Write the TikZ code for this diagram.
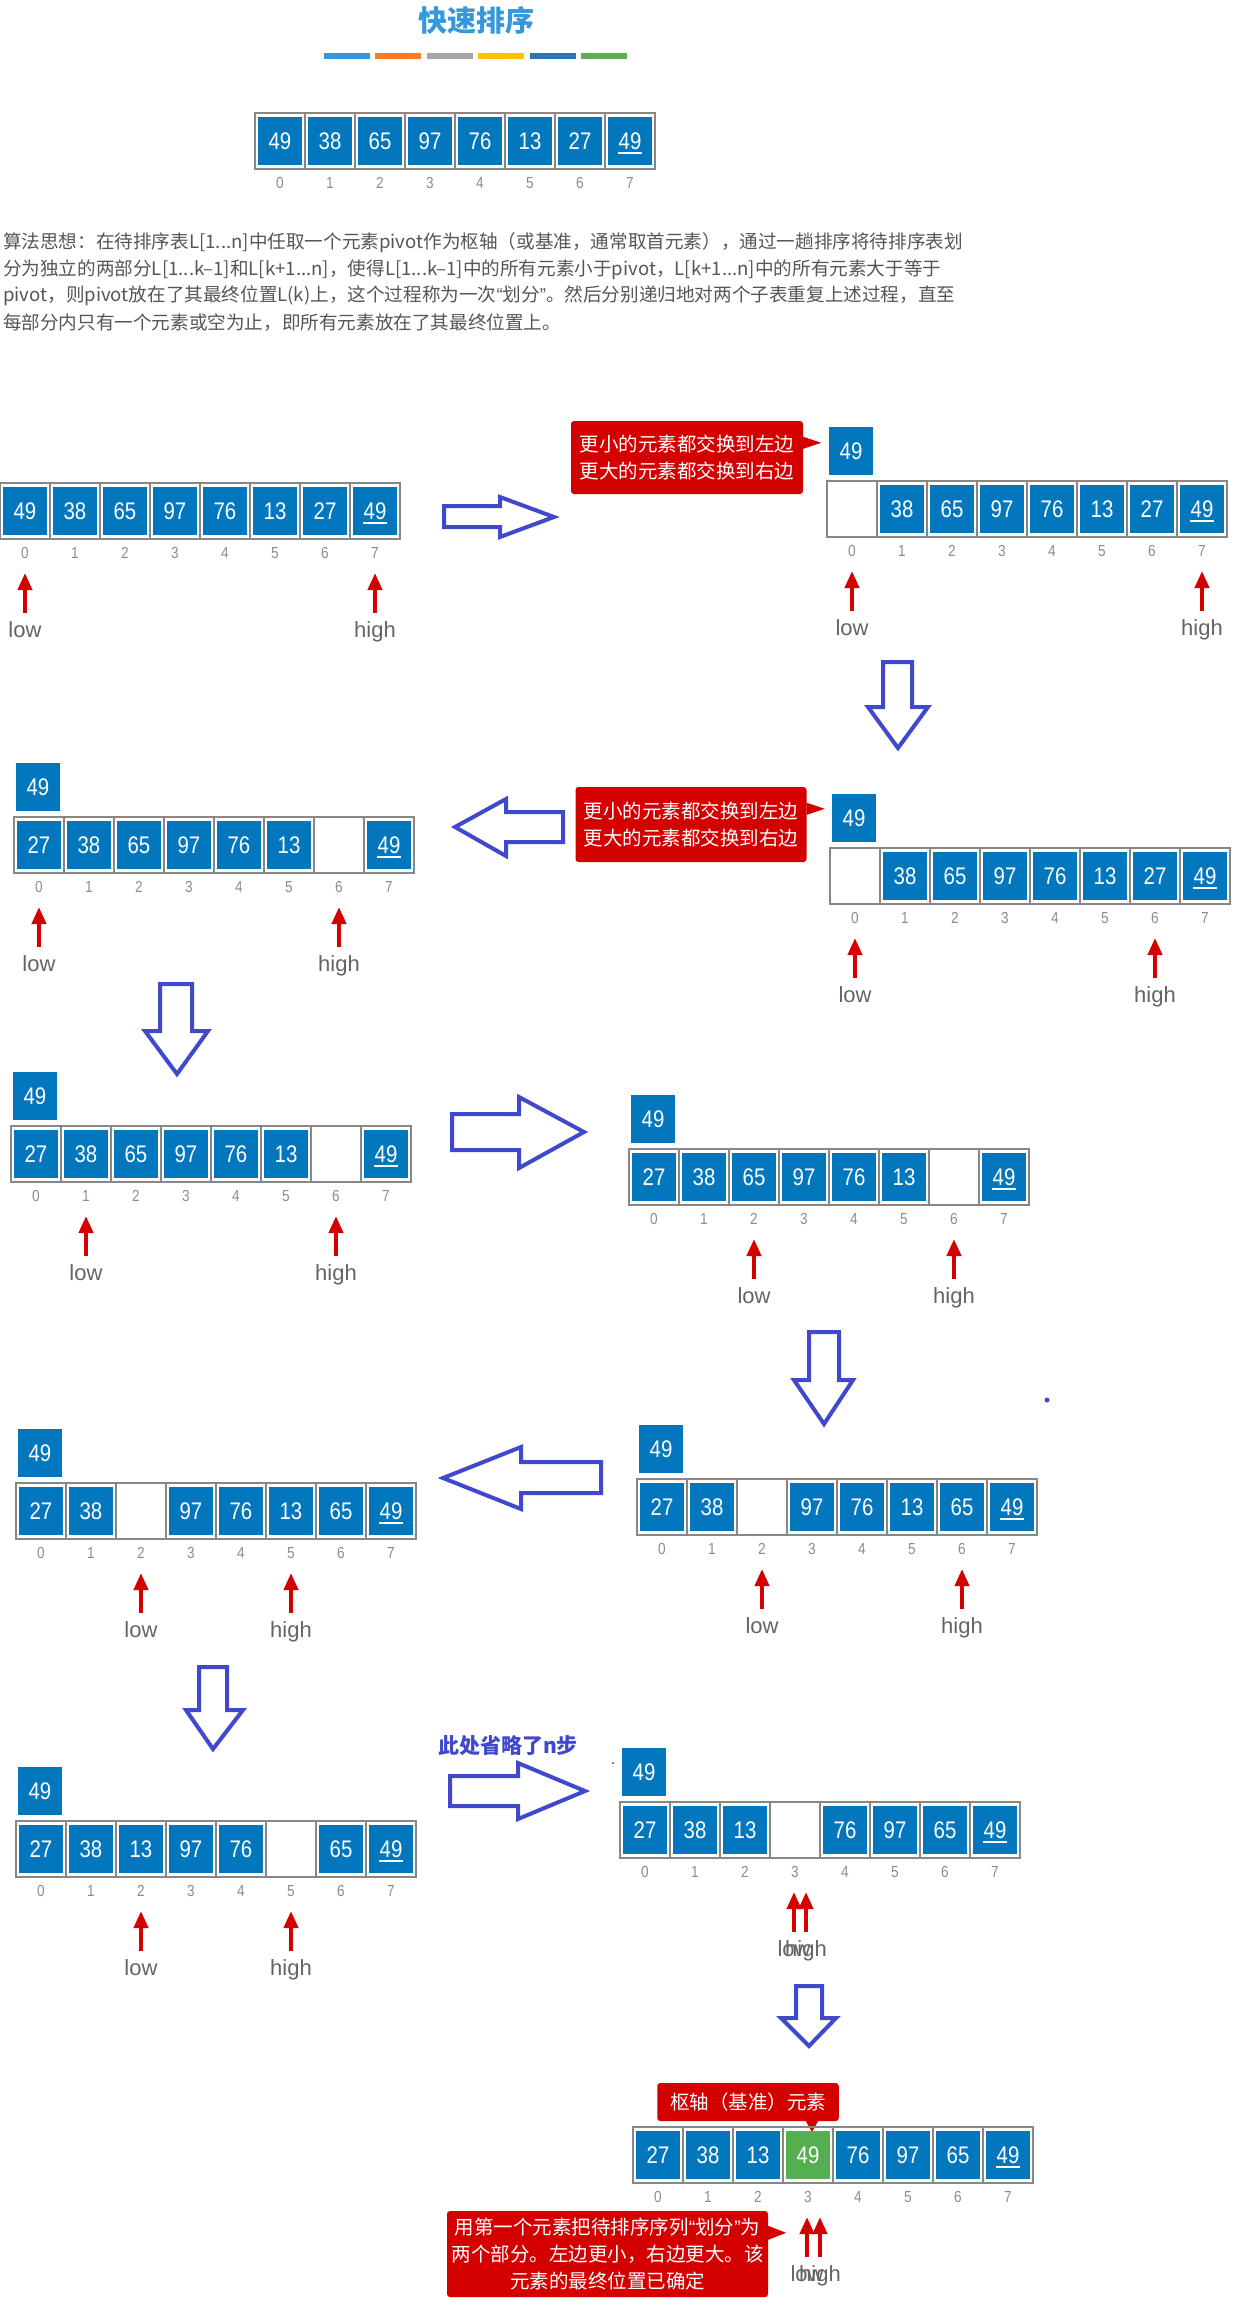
\documentclass[tikz,border=0pt]{standalone}
\usepackage{fontspec}
\setmainfont{Liberation Sans}
\newfontfamily\cjk{Noto Sans CJK SC}
\newfontfamily\narrowf{Liberation Sans}[FakeStretch=0.85]
\usetikzlibrary{arrows.meta}

\definecolor{cellblue}{RGB}{2,119,189}
\definecolor{pivgreen}{RGB}{85,175,80}
\definecolor{hintred}{RGB}{212,0,0}
\definecolor{bigblue}{RGB}{64,72,204}
\definecolor{titleblue}{RGB}{52,152,219}
\definecolor{framegray}{RGB}{135,135,135}
\definecolor{idxgray}{RGB}{140,140,140}
\definecolor{lblgray}{RGB}{100,100,100}
\definecolor{txtgray}{RGB}{85,85,85}
\definecolor{barA}{RGB}{52,152,219}
\definecolor{barB}{RGB}{255,120,35}
\definecolor{barC}{RGB}{166,166,166}
\definecolor{barD}{RGB}{255,192,0}
\definecolor{barE}{RGB}{46,117,182}
\definecolor{barF}{RGB}{90,175,80}

\tikzset{
  cellbox/.style={fill=cellblue,text=white,minimum width=44pt,minimum height=48pt,inner sep=0pt,font=\narrowf\fontsize{24}{24}\selectfont},
  idx/.style={text=idxgray,inner sep=0pt,font=\narrowf\fontsize{16}{16}\selectfont},
  ptrlbl/.style={text=lblgray,inner sep=0pt,text height=16pt,text depth=5pt,font=\fontsize{22}{22}\selectfont},
  ptr/.style={hintred,line width=4pt,-{Triangle[width=14pt,length=17pt]}},
  bigarrow/.style={draw=bigblue,fill=white,line width=4pt},
  hint/.style={fill=hintred,text=white,rounded corners=3pt,inner sep=0pt,align=center,font=\cjk\fontsize{19.5}{27}\selectfont},
  para/.style={text=txtgray,inner sep=0pt,anchor=west,font=\cjk\fontsize{18.6}{18.6}\selectfont}
}

\def\qsblank{x}
\newcommand\qslq{{\rmfamily “}}
\newcommand\qsrq{{\rmfamily ”}}
% one row of eight cells: name, left x, top y, values, green cell
\newcommand\qsarray[5]{%
  \foreach \v [count=\i from 0] in {#4} {
    \draw[framegray,line width=1.2pt] (#2+50*\i,#3) rectangle ++(50,56);
    \ifx\v\qsblank\else
      \ifnum\i=#5 \node[cellbox,fill=pivgreen] (#1c\i) at (#2+50*\i+25,#3+28) {\v};
      \else \node[cellbox] (#1c\i) at (#2+50*\i+25,#3+28) {\v};\fi
    \fi
    \node[idx] (#1i\i) at (#2+50*\i+25,#3+70) {\i};
  }
  \draw[white,line width=1.5pt] (#1c7.south) ++(-12,-12) -- ++(24,0);
}
\newcommand\qspivot[3]{\node[cellbox] (#1p) at (#2+24,#3-30) {49};}
% red pointer with its label
\newcommand\qsptr[4]{%
  \node[ptrlbl] (#1) at (#2,#3+148.5) {#4};
  \draw[ptr] (#1) ++(0,-18.5) -- ++(0,-40);
}

\begin{document}
\begin{tikzpicture}[x=1pt,y=-1pt]
\useasboundingbox (0,0) rectangle (1260,2316);

\node[text=titleblue,font=\cjk\bfseries\fontsize{29}{29}\selectfont] (title) at (476,20) {快速排序};
\foreach \c [count=\k from 0] in {barA,barB,barC,barD,barE,barF}
  \fill[\c] (324+51.4*\k,53) rectangle ++(46,6);

\qsarray{top}{255}{113}{49,38,65,97,76,13,27,49}{-1}

\node[para] (t1) at (3,243) {算法思想：在待排序表L[1...n]中任取一个元素pivot作为枢轴（或基准，通常取首元素），通过一趟排序将待排序表划};
\node[para] (t2) at (3,270) {分为独立的两部分L[1...k–1]和L[k+1...n]，使得L[1...k–1]中的所有元素小于pivot，L[k+1...n]中的所有元素大于等于};
\node[para] (t3) at (3,296) {pivot，则pivot放在了其最终位置L(k)上，这个过程称为一次\qslq 划分\qsrq 。然后分别递归地对两个子表重复上述过程，直至};
\node[para] (t4) at (3,323) {每部分内只有一个元素或空为止，即所有元素放在了其最终位置上。};

% row 1
\qsarray{a}{0}{483}{49,38,65,97,76,13,27,49}{-1}
\qsptr{alo}{25}{483}{low}
\qsptr{ahi}{375}{483}{high}
\draw[bigarrow] (444,506) -- (500,506) -- (500,497) -- (554,517) -- (500,537) -- (500,527) -- (444,527) -- cycle;
\node[hint,minimum width=232pt,minimum height=73pt] (h1) at (687,457.5) {更小的元素都交换到左边\\更大的元素都交换到右边};
\fill[hintred] ([yshift=-16pt]h1.north east) -- ++(18,6) -- ++(-18,6) -- cycle;
\qspivot{b}{827}{481}
\qsarray{b}{827}{481}{x,38,65,97,76,13,27,49}{-1}
\qsptr{blo}{852}{481}{low}
\qsptr{bhi}{1202}{481}{high}
\draw[bigarrow] (883,662) -- (912,662) -- (912,707) -- (928,707) -- (898,748) -- (868,707) -- (883,707) -- cycle;

% row 2
\qspivot{c}{14}{817}
\qsarray{c}{14}{817}{27,38,65,97,76,13,x,49}{-1}
\qsptr{clo}{39}{817}{low}
\qsptr{chi}{339}{817}{high}
\draw[bigarrow] (563,812) -- (506,812) -- (506,799) -- (455,827) -- (506,856) -- (506,842) -- (563,842) -- cycle;
\node[hint,minimum width=231pt,minimum height=75pt] (h2) at (691,824.5) {更小的元素都交换到左边\\更大的元素都交换到右边};
\fill[hintred] ([yshift=-16pt]h2.north east) -- ++(18,6) -- ++(-18,6) -- cycle;
\qspivot{d}{830}{848}
\qsarray{d}{830}{848}{x,38,65,97,76,13,27,49}{-1}
\qsptr{dlo}{855}{848}{low}
\qsptr{dhi}{1155}{848}{high}
\draw[bigarrow] (160,984) -- (192,984) -- (192,1031) -- (208,1031) -- (177,1074) -- (145,1031) -- (160,1031) -- cycle;

% row 3
\qspivot{e}{11}{1126}
\qsarray{e}{11}{1126}{27,38,65,97,76,13,x,49}{-1}
\qsptr{elo}{86}{1126}{low}
\qsptr{ehi}{336}{1126}{high}
\draw[bigarrow] (452,1114) -- (519,1114) -- (519,1097) -- (584,1132) -- (519,1168) -- (519,1150) -- (452,1150) -- cycle;
\qspivot{f}{629}{1149}
\qsarray{f}{629}{1149}{27,38,65,97,76,13,x,49}{-1}
\qsptr{flo}{754}{1149}{low}
\qsptr{fhi}{954}{1149}{high}
\draw[bigarrow] (809,1332) -- (839,1332) -- (839,1380) -- (853,1380) -- (824,1424) -- (794,1380) -- (809,1380) -- cycle;
\fill[bigblue] (1047,1400) circle (2.5);

% row 4
\qspivot{g}{16}{1483}
\qsarray{g}{16}{1483}{27,38,x,97,76,13,65,49}{-1}
\qsptr{glo}{141}{1483}{low}
\qsptr{ghi}{291}{1483}{high}
\draw[bigarrow] (601,1462) -- (521,1462) -- (521,1447) -- (443,1478) -- (521,1509) -- (521,1493) -- (601,1493) -- cycle;
\qspivot{k}{637}{1479}
\qsarray{k}{637}{1479}{27,38,x,97,76,13,65,49}{-1}
\qsptr{klo}{762}{1479}{low}
\qsptr{khi}{962}{1479}{high}
\draw[bigarrow] (199,1667) -- (227,1667) -- (227,1710) -- (243,1710) -- (213,1749) -- (186,1710) -- (199,1710) -- cycle;

% row 5
\qspivot{m}{16}{1821}
\qsarray{m}{16}{1821}{27,38,13,97,76,x,65,49}{-1}
\qsptr{mlo}{141}{1821}{low}
\qsptr{mhi}{291}{1821}{high}
\node[text=bigblue,inner sep=0pt,font=\cjk\bfseries\fontsize{21}{21}\selectfont] (skip) at (508,1746) {此处省略了n步};
\draw[bigarrow] (450,1776) -- (518,1776) -- (518,1763) -- (585,1791) -- (518,1819) -- (518,1806) -- (450,1806) -- cycle;
\fill[hintred] (613,1763) circle (1);
\qspivot{n}{620}{1802}
\qsarray{n}{620}{1802}{27,38,13,x,76,97,65,49}{-1}
\qsptr{nlo}{794}{1802}{low}
\qsptr{nhi}{806}{1802}{high}
\draw[bigarrow] (796,1986) -- (822,1986) -- (822,2018) -- (836,2018) -- (809,2046) -- (781,2018) -- (796,2018) -- cycle;

% result
\node[hint,minimum width=181.5pt,minimum height=38pt] (h3) at (748,2102) {枢轴（基准）元素};
\fill[hintred] ([xshift=-33pt]h3.south east) -- ++(6,11) -- ++(6,-11) -- cycle;
\qsarray{r}{633}{2127}{27,38,13,49,76,97,65,49}{3}
\qsptr{rlo}{807}{2127}{low}
\qsptr{rhi}{820}{2127}{high}
\node[hint,minimum width=321pt,minimum height=86pt] (h4) at (607.5,2254) {用第一个元素把待排序序列\qslq 划分\qsrq 为\\两个部分。左边更小，右边更大。该\\元素的最终位置已确定};
\fill[hintred] ([yshift=-15pt]h4.north east) -- ++(18,7) -- ++(-18,7) -- cycle;
\end{tikzpicture}
\end{document}
